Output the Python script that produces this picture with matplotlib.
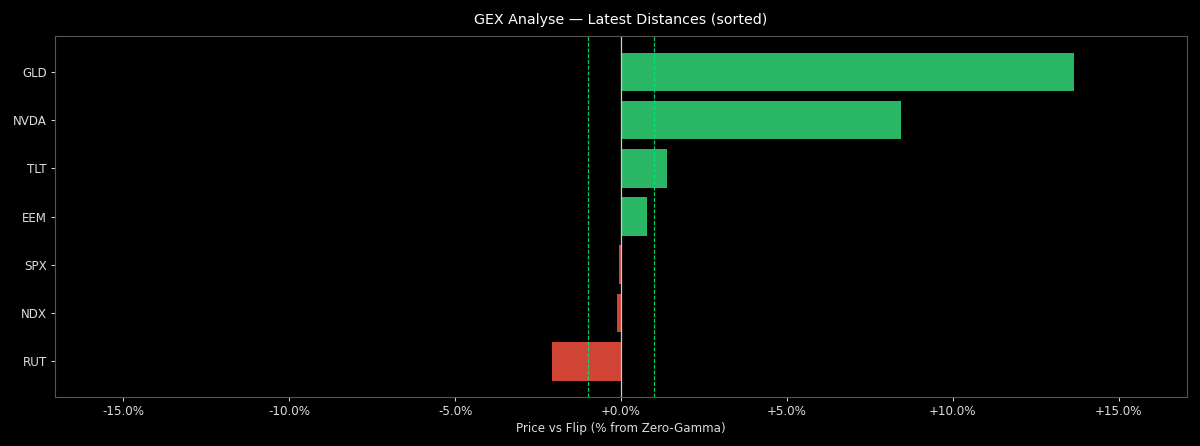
import matplotlib
matplotlib.use("Agg")
import matplotlib.pyplot as plt
from matplotlib.ticker import FuncFormatter

tickers = ["RUT", "NDX", "SPX", "EEM", "TLT", "NVDA", "GLD"]
distances = [-2.07, -0.11, -0.06, 0.78, 1.39, 8.43, 13.64]
band = 1.0


def pct(v, _):
    if abs(v) < 1e-9:
        return "+0.0%"
    return f"{v:+.1f}%"


plt.style.use("dark_background")
fig, ax = plt.subplots(figsize=(12, 4.46), dpi=100)
fig.patch.set_facecolor("black")
ax.set_facecolor("black")

colors = ["#2ecc71" if d >= 0 else "#e74c3c" for d in distances]
ax.barh(tickers, distances, color=colors, alpha=0.9, height=0.8)

ax.axvline(0, color="#cccccc", lw=0.9)
ax.axvline(-band, color="#00e676", lw=0.9, ls=(0, (3.2, 1.4)), alpha=0.9)
ax.axvline(band, color="#00e676", lw=0.9, ls=(0, (3.2, 1.4)), alpha=0.9)

ax.set_xlim(-17.05, 17.05)
ax.xaxis.set_major_formatter(FuncFormatter(pct))
ax.set_xlabel("Price vs Flip (% from Zero-Gamma)", color="#dddddd", fontsize=8.6, labelpad=3)
ax.set_title("GEX Analyse — Latest Distances (sorted)", color="white", fontsize=10.3, pad=9)
ax.tick_params(colors="#dddddd", labelsize=8.6, length=3, width=0.7, pad=3)
for s in ax.spines.values():
    s.set_color("#555555")
    s.set_linewidth(0.8)

plt.subplots_adjust(left=0.046, right=0.989, top=0.919, bottom=0.110)
plt.savefig("out.png", facecolor="black")
